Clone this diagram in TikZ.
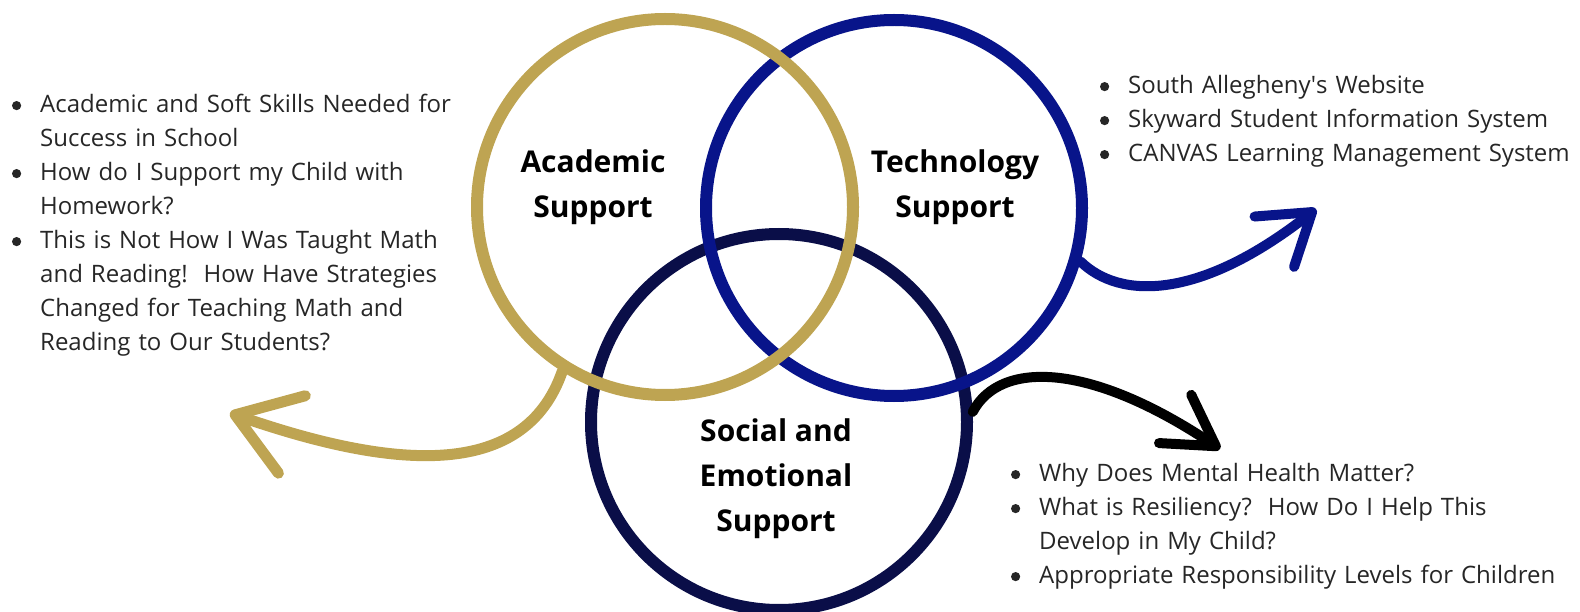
\documentclass[tikz,border=0pt]{standalone}
\usepackage{fontspec}
\setmainfont{Open Sans}
\usepackage{enumitem}
\usetikzlibrary{arrows.meta}
\definecolor{gold}{RGB}{190,164,82}
\definecolor{techblue}{RGB}{8,20,138}
\definecolor{navy}{RGB}{10,14,72}
\definecolor{txt}{RGB}{38,38,38}
\newcommand\dotmark{\tikz[baseline=0pt]\fill[txt] (0pt,6.6pt) circle (4.6pt);}
\setlist[itemize]{label=\dotmark,
  leftmargin=30pt, labelsep=19pt, itemsep=0pt, topsep=0pt, parsep=0pt, partopsep=0pt}
\begin{document}
\begin{tikzpicture}[x=1pt, y=-1pt,
    ring/.style={circle, draw, line width=12pt, minimum size=376pt, inner sep=0pt},
    title/.style={font=\bfseries\fontsize{30}{45}\selectfont, align=center, text=black},
    items/.style={anchor=north west, text width=#1, inner sep=0pt,
                  font=\fontsize{24}{34}\selectfont, text=txt},
    swoosh/.style={line width=10pt, line cap=round},
]
  \useasboundingbox (0,0) rectangle (1580,612);

  % the three rings
  \node [ring, draw=navy]     (s) at (779,422) {};
  \node [ring, draw=techblue] (t) at (894,208) {};
  \node [ring, draw=gold]     (a) at (665,207) {};

  \node [title] (at) at (593,187) {Academic\\Support};
  \node [title] (tt) at (955,187) {Technology\\Support};
  \node [title] (st) at (776,479) {Social and\\Emotional\\Support};

  % the lists
  \node [items=500pt] (al) at (10,78) {\begin{itemize}
    \item Academic and Soft Skills Needed for\newline Success in School
    \item How do I Support my Child with\newline Homework?
    \item This is Not How I Was Taught Math\newline and Reading!\ \ How Have Strategies\newline Changed for Teaching Math and\newline Reading to Our Students?
  \end{itemize}};
  \node [items=480pt] (tl) at (1098,59) {\begin{itemize}
    \item South Allegheny\textquotesingle s Website
    \item Skyward Student Information System
    \item CANVAS Learning Management System
  \end{itemize}};
  \node [items=570pt] (sl) at (1009,447) {\begin{itemize}
    \item Why Does Mental Health Matter?
    \item What is Resiliency?\ \ How Do I Help This\newline Develop in My Child?
    \item Appropriate Responsibility Levels for Children
  \end{itemize}};

  % the arrows
  \coordinate (ga) at (230,413);
  \coordinate (ta) at (1316,209);
  \coordinate (sa) at (1220,449);
  \draw [swoosh, gold, line width=11pt, -{Straight Barb[length=60pt,width=82pt,round]}]
    (a.238) .. controls (525,478) and (400,472) .. (ga);
  \draw [swoosh, techblue, -{Straight Barb[length=48pt,width=64pt,round]}]
    (t.344) .. controls (1120,300) and (1200,300) .. (ta);
  \draw [swoosh, black, -{Straight Barb[length=49pt,width=58pt,round]}]
    (s.3) .. controls (1000,360) and (1090,362) .. (sa);
\end{tikzpicture}
\end{document}
